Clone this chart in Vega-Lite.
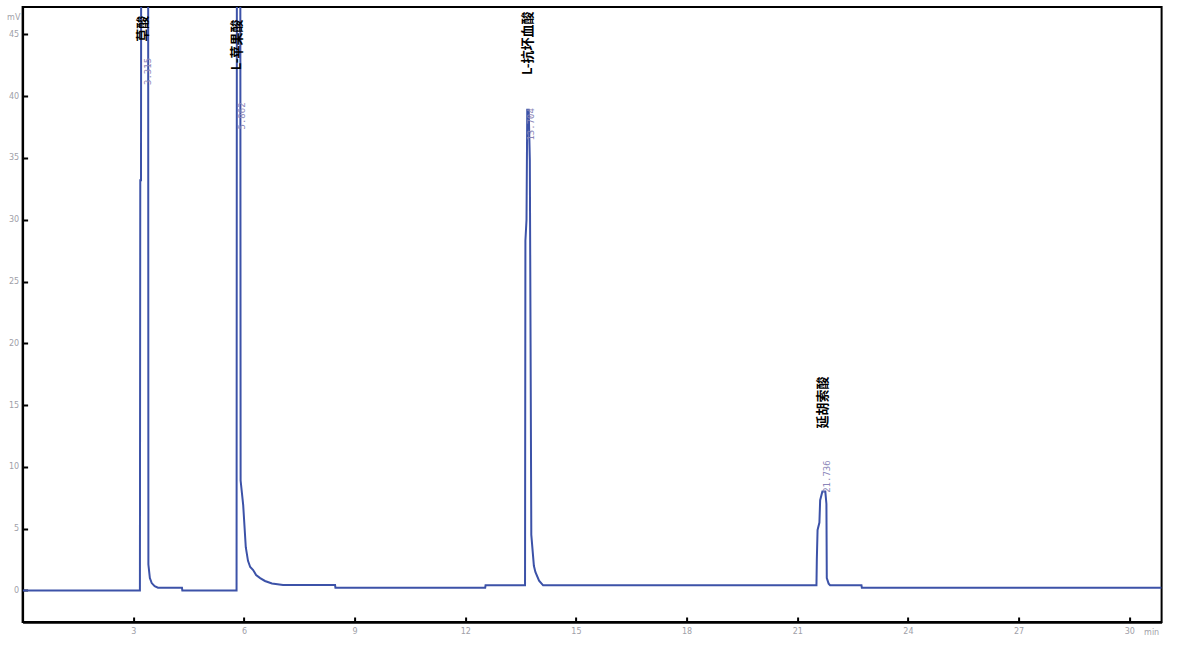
{
  "$schema": "https://vega.github.io/schema/vega-lite/v6.json",
  "autosize": {"type": "none"},
  "width": 1139,
  "height": 615,
  "padding": {"left": 22.6, "top": 7, "right": 20.4, "bottom": 25},
  "background": "white",
  "config": {
    "view": {"stroke": "black", "strokeWidth": 2},
    "axis": {
      "grid": false,
      "domainColor": "black",
      "domainWidth": 2,
      "tickColor": "black",
      "tickWidth": 2,
      "tickSize": -5,
      "labelColor": "#a0a0a8",
      "labelFont": "DejaVu Sans",
      "labelFontSize": 8,
      "titleFont": "DejaVu Sans",
      "titleFontSize": 8,
      "titleFontWeight": "normal",
      "titleColor": "#a0a0a8"
    }
  },
  "datasets": {
    "trace": [
      {"t": 0.0, "mV": 0.0},
      {"t": 3.18, "mV": 0.0},
      {"t": 3.19, "mV": 33.2},
      {"t": 3.21, "mV": 33.2},
      {"t": 3.22, "mV": 80},
      {"t": 3.31, "mV": 120},
      {"t": 3.40, "mV": 80},
      {"t": 3.41, "mV": 2.1},
      {"t": 3.45, "mV": 1.0},
      {"t": 3.50, "mV": 0.6},
      {"t": 3.58, "mV": 0.35},
      {"t": 3.67, "mV": 0.23},
      {"t": 4.32, "mV": 0.23},
      {"t": 4.33, "mV": 0.0},
      {"t": 5.80, "mV": 0.0},
      {"t": 5.81, "mV": 60},
      {"t": 5.86, "mV": 120},
      {"t": 5.90, "mV": 60},
      {"t": 5.91, "mV": 8.9},
      {"t": 5.98, "mV": 6.9},
      {"t": 6.05, "mV": 3.5},
      {"t": 6.11, "mV": 2.4},
      {"t": 6.17, "mV": 1.9},
      {"t": 6.25, "mV": 1.65},
      {"t": 6.33, "mV": 1.25},
      {"t": 6.44, "mV": 1.0},
      {"t": 6.57, "mV": 0.77},
      {"t": 6.76, "mV": 0.57},
      {"t": 7.06, "mV": 0.45},
      {"t": 8.47, "mV": 0.45},
      {"t": 8.48, "mV": 0.23},
      {"t": 12.54, "mV": 0.23},
      {"t": 12.55, "mV": 0.42},
      {"t": 13.62, "mV": 0.42},
      {"t": 13.63, "mV": 28.3},
      {"t": 13.66, "mV": 30.0},
      {"t": 13.68, "mV": 38.9},
      {"t": 13.72, "mV": 38.9},
      {"t": 13.75, "mV": 34.8},
      {"t": 13.77, "mV": 20.0},
      {"t": 13.79, "mV": 4.5},
      {"t": 13.86, "mV": 2.0},
      {"t": 13.90, "mV": 1.5},
      {"t": 14.00, "mV": 0.8},
      {"t": 14.11, "mV": 0.42},
      {"t": 21.52, "mV": 0.42},
      {"t": 21.53, "mV": 2.5},
      {"t": 21.55, "mV": 4.9},
      {"t": 21.60, "mV": 5.5},
      {"t": 21.62, "mV": 7.3},
      {"t": 21.68, "mV": 8.0},
      {"t": 21.76, "mV": 8.0},
      {"t": 21.79, "mV": 7.0},
      {"t": 21.80, "mV": 1.0},
      {"t": 21.85, "mV": 0.55},
      {"t": 21.89, "mV": 0.42},
      {"t": 22.74, "mV": 0.42},
      {"t": 22.75, "mV": 0.23},
      {"t": 30.876, "mV": 0.23}
    ],
    "peaks": [
      {"name": "草酸", "rt": 3.315, "rt_label": "3.315", "name_mV": 44.4, "rt_mV": 40.9, "name_t": 3.27},
      {"name": "L-苹果酸", "rt": 5.862, "rt_label": "5.862", "name_mV": 42.1, "rt_mV": 37.3, "name_t": 5.82},
      {"name": "L-抗坏血酸", "rt": 13.704, "rt_label": "13.704", "name_mV": 41.7, "rt_mV": 36.4, "name_t": 13.69},
      {"name": "延胡索酸", "rt": 21.736, "rt_label": "21.736", "name_mV": 13.1, "rt_mV": 7.9, "name_t": 21.70}
    ]
  },
  "layer": [
    {
      "data": {"name": "trace"},
      "mark": {"type": "line", "color": "#3c52a8", "strokeWidth": 2, "clip": true, "interpolate": "linear"},
      "encoding": {
        "x": {
          "field": "t", "type": "quantitative",
          "scale": {"domain": [0, 30.876], "nice": false, "zero": false},
          "axis": {
            "values": [3, 6, 9, 12, 15, 18, 21, 24, 27, 30],
            "title": "min",
            "titleX": 1121, "titleY": 10,
            "titleAlign": "left", "titleBaseline": "middle",
            "labelPadding": 10,
            "domainWidth": 2.5
          }
        },
        "y": {
          "field": "mV", "type": "quantitative",
          "scale": {"domain": [-2.55, 47.21], "nice": false, "zero": false},
          "axis": {
            "values": [0, 5, 10, 15, 20, 25, 30, 35, 40, 45],
            "title": "mV",
            "titleAngle": 0,
            "titleX": -16, "titleY": 10,
            "titleAlign": "left", "titleBaseline": "middle",
            "labelPadding": 9
          }
        }
      }
    },
    {
      "data": {"name": "peaks"},
      "mark": {"type": "text", "angle": -90, "align": "left", "baseline": "middle", "font": "Noto Sans CJK SC", "fontSize": 13, "fontWeight": "bold", "color": "black", "clip": false},
      "encoding": {
        "x": {"field": "name_t", "type": "quantitative"},
        "y": {"field": "name_mV", "type": "quantitative"},
        "text": {"field": "name"}
      }
    },
    {
      "data": {"name": "peaks"},
      "mark": {"type": "text", "angle": -90, "align": "left", "baseline": "middle", "font": "DejaVu Sans Mono", "fontSize": 9, "color": "#8a86b8", "dy": 3},
      "encoding": {
        "x": {"field": "rt", "type": "quantitative"},
        "y": {"field": "rt_mV", "type": "quantitative"},
        "text": {"field": "rt_label"}
      }
    },
    {
      "mark": {"type": "rule", "color": "#333333", "strokeWidth": 4, "clip": false},
      "encoding": {
        "x": {"datum": -0.62},
        "x2": {"datum": 31.43},
        "y": {"datum": 47.45}
      }
    }
  ]
}
